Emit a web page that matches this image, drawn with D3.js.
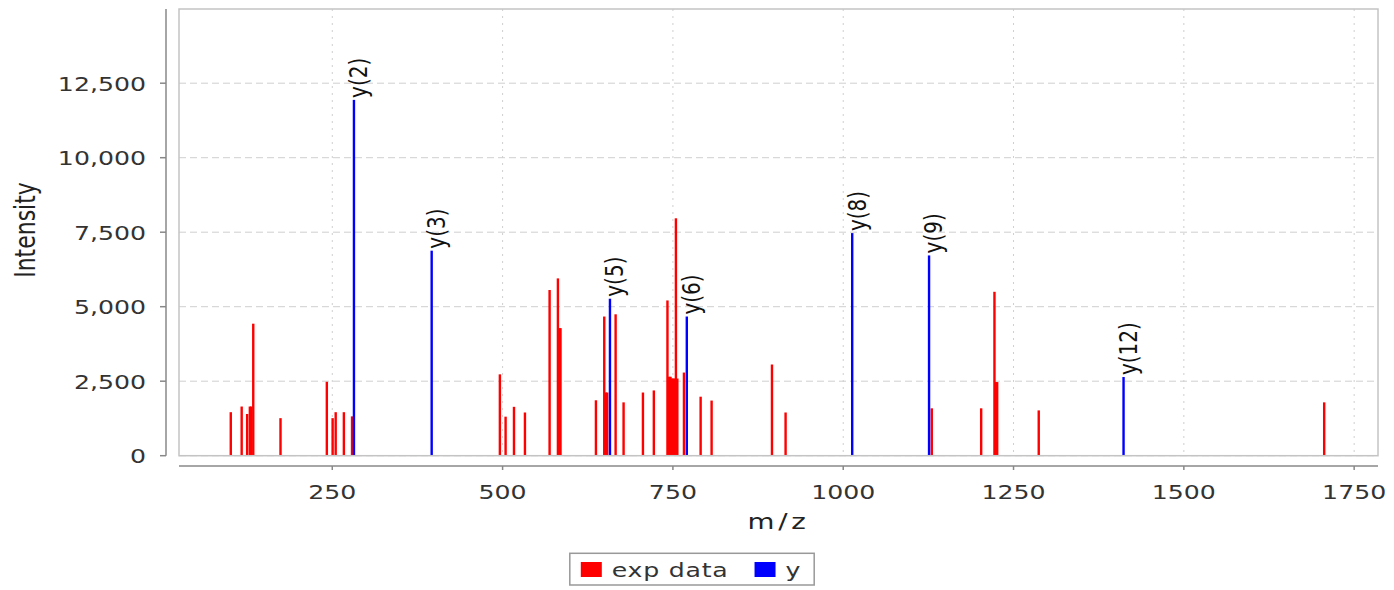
<!DOCTYPE html>
<html>
<head>
<meta charset="utf-8">
<script src="https://cdn.jsdelivr.net/npm/d3@7"></script>
<style>
  body { margin: 0; background: #fff; }
  svg { display: block; font-family: 'DejaVu Sans', sans-serif; }
</style>
</head>
<body>
<div id="chart"></div>
<script>
// experimental peaks (m/z, intensity)
const expMz = [101, 117, 125, 129, 131, 134, 174, 242, 250.5, 255, 267, 279,
  496, 504.4, 516.7, 532.8, 569, 581.2, 583.5, 585, 637, 649.2, 651.5, 653.5,
  665.9, 677.6, 706, 722, 742, 744.5, 746.5, 748.5, 750.5, 752.5, 754.4, 756.5,
  766.2, 790.7, 806.8, 895.4, 915.4, 1130, 1202.5, 1222, 1224.5, 1226, 1287, 1706];
const expIntensity = [1460, 1650, 1400, 1650, 1650, 4430, 1260, 2480, 1260, 1460, 1460, 1320,
  2730, 1310, 1640, 1450, 5560, 5950, 4280, 4280, 1860, 4670, 2120, 2120,
  4745, 1790, 2120, 2190, 5210, 2650, 2650, 2590, 2590, 2590, 7966, 2590,
  2790, 1980, 1850, 3060, 1450, 1590, 1590, 5500, 2470, 2470, 1520, 1790];

// annotated y ions
const yMz = [281.8, 395.9, 657.6, 770.4, 1013.2, 1126, 1411.5];
const yIntensity = [11940, 6880, 5268, 4670, 7470, 6720, 2640];
const yLabels = ['y(2)', 'y(3)', 'y(5)', 'y(6)', 'y(8)', 'y(9)', 'y(12)'];

const xTicks = [250, 500, 750, 1000, 1250, 1500, 1750];
const yTicks = [0, 2500, 5000, 7500, 10000, 12500];

const seriesNames = ['exp data', 'y'];
const seriesColors = ['#ff0000', '#0000ff'];

const W = 1394, H = 590;
const plot = { left: 179, right: 1378, top: 9, bottom: 455.7 };
const sx = 1.26; // horizontal stretch of the text in the reference

const svg = d3.select('#chart').append('svg')
  .attr('width', W).attr('height', H);

const x = d3.scaleLinear().domain([25, 1785]).range([plot.left, plot.right]);
const y = d3.scaleLinear().domain([0, 14990]).range([plot.bottom, plot.top]);

const text = (g, tx, ty, str, rot) => g.append('text')
  .attr('transform', `translate(${tx},${ty}) scale(${sx},1)` + (rot ? ` rotate(${rot})` : ''))
  .text(str);

// plot background + grid
svg.append('rect')
  .attr('x', plot.left).attr('y', plot.top)
  .attr('width', plot.right - plot.left).attr('height', plot.bottom - plot.top)
  .attr('fill', '#fff');

svg.append('g').selectAll('line').data(xTicks).join('line')
  .attr('x1', (d) => x(d)).attr('x2', (d) => x(d))
  .attr('y1', plot.top).attr('y2', plot.bottom)
  .attr('stroke', '#cfcfcf').attr('stroke-width', 1)
  .attr('stroke-dasharray', '2,5');

svg.append('g').selectAll('line').data(yTicks).join('line')
  .attr('x1', plot.left).attr('x2', plot.right)
  .attr('y1', (d) => y(d)).attr('y2', (d) => y(d))
  .attr('stroke', '#cfcfcf').attr('stroke-width', 1)
  .attr('stroke-dasharray', '7,4');

// peaks
svg.append('g').selectAll('rect').data(expMz).join('rect')
  .attr('x', (d) => x(d) - 1.2)
  .attr('width', 2.4)
  .attr('y', (d, i) => y(expIntensity[i]))
  .attr('height', (d, i) => y(0) - y(expIntensity[i]))
  .attr('fill', seriesColors[0]);

svg.append('g').selectAll('rect').data(yMz).join('rect')
  .attr('x', (d) => x(d) - 1.2)
  .attr('width', 2.4)
  .attr('y', (d, i) => y(yIntensity[i]))
  .attr('height', (d, i) => y(0) - y(yIntensity[i]))
  .attr('fill', seriesColors[1]);

// peak labels
const labels = svg.append('g')
  .attr('font-size', 20).attr('fill', '#111')
  .attr('dominant-baseline', 'central');
yMz.forEach((d, i) => {
  text(labels, x(d) + 4.5, y(yIntensity[i]) - 2, yLabels[i], -90);
});

// plot outline
svg.append('rect')
  .attr('x', plot.left).attr('y', plot.top)
  .attr('width', plot.right - plot.left).attr('height', plot.bottom - plot.top)
  .attr('fill', 'none').attr('stroke', '#c4c4c4').attr('stroke-width', 1.5);

// y axis
const yAxis = svg.append('g').attr('transform', 'translate(166,0)');
yAxis.append('line')
  .attr('y1', plot.top).attr('y2', plot.bottom)
  .attr('stroke', '#888').attr('stroke-width', 1.5);
yAxis.selectAll('line.tick').data(yTicks).join('line')
  .attr('class', 'tick')
  .attr('x1', -6).attr('x2', 0)
  .attr('y1', (d) => y(d)).attr('y2', (d) => y(d))
  .attr('stroke', '#888').attr('stroke-width', 1.5);
const yLab = yAxis.append('g')
  .attr('font-size', 20).attr('fill', '#333').attr('text-anchor', 'end');
yTicks.forEach((d) => text(yLab, -20, y(d) + 7.3, d3.format(',')(d)));

// x axis
const xAxis = svg.append('g').attr('transform', 'translate(0,466)');
xAxis.append('line')
  .attr('x1', plot.left).attr('x2', plot.right)
  .attr('stroke', '#888').attr('stroke-width', 1.5);
xAxis.selectAll('line.tick').data(xTicks).join('line')
  .attr('class', 'tick')
  .attr('x1', (d) => x(d)).attr('x2', (d) => x(d))
  .attr('y1', 0).attr('y2', 4)
  .attr('stroke', '#888').attr('stroke-width', 1.5);
const xLab = xAxis.append('g')
  .attr('font-size', 20).attr('fill', '#333').attr('text-anchor', 'middle');
xTicks.forEach((d) => text(xLab, x(d), 33, d));

// axis titles
const titles = svg.append('g').attr('font-size', 22).attr('fill', '#222')
  .attr('text-anchor', 'middle');
text(titles, (plot.left + plot.right) / 2, 529, 'm/z').attr('letter-spacing', 3);
text(titles, 26, 230, 'Intensity', -90).attr('dominant-baseline', 'central');

// legend
const legend = svg.append('g');
const legendBox = legend.append('rect')
  .attr('y', 553.3).attr('height', 31.7)
  .attr('fill', '#fff').attr('stroke', '#999').attr('stroke-width', 1.5);
const legendItems = legend.append('g').attr('font-size', 20).attr('fill', '#333');
let cursor = 11;
const itemX = [];
seriesNames.forEach((name, i) => {
  itemX.push(cursor);
  const t = text(legendItems, 0, 577, name).attr('letter-spacing', 0.6);
  const w = t.node().getComputedTextLength() * sx;
  t.attr('data-w', w);
  cursor += 31 + w + (i < seriesNames.length - 1 ? 26 : 13);
});
const legendW = cursor;
const legendLeft = 692 - legendW / 2;
legendBox.attr('x', legendLeft).attr('width', legendW);
legendItems.selectAll('text').each(function (d, i) {
  d3.select(this).attr('transform', `translate(${legendLeft + itemX[i] + 31},577) scale(${sx},1)`);
});
seriesNames.forEach((name, i) => {
  legend.append('rect')
    .attr('x', legendLeft + itemX[i]).attr('y', 562)
    .attr('width', 21).attr('height', 15)
    .attr('fill', seriesColors[i]);
});
</script>
</body>
</html>
